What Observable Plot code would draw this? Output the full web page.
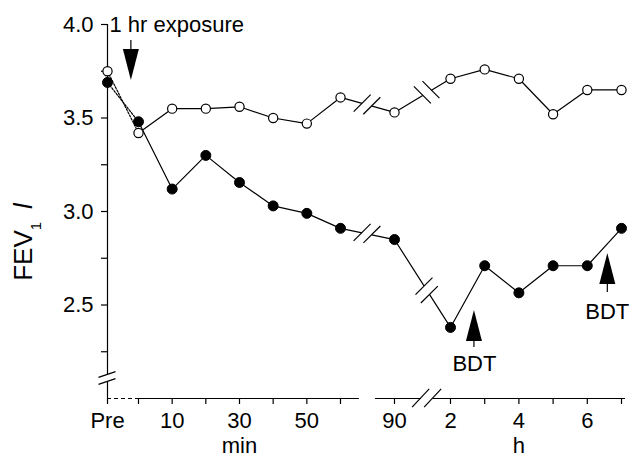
<!DOCTYPE html>
<html><head><meta charset="utf-8">
<script src="https://cdn.jsdelivr.net/npm/d3@7"></script>
<script src="https://cdn.jsdelivr.net/npm/@observablehq/plot@0.6"></script>
<style>html,body{margin:0;padding:0;background:#fff;}</style>
</head><body><div id="chart"></div>
<script>
// ---- data ----
// time in minutes after the end of the 1 h exposure ("Pre" placed before 0)
const timeMin = [-10, 0, 10, 20, 30, 40, 50, 60, 90, 120, 180, 240, 300, 360, 420];
const openValues = [3.75, 3.42, 3.55, 3.55, 3.56, 3.50, 3.47, 3.61, 3.53, 3.71, 3.76, 3.71, 3.52, 3.65, 3.65];
const filledValues = [3.69, 3.48, 3.12, 3.30, 3.155, 3.03, 2.99, 2.91, 2.85, 2.38, 2.71, 2.565, 2.71, 2.71, 2.91];

const xTickValues = [-10, 0, 10, 20, 30, 40, 50, 60, 90, 120, 180, 240, 300, 360, 420];
const xTickLabels = ["Pre", "", "10", "", "30", "", "50", "", "90", "2", "", "4", "", "6", ""];
const yTickValues = [2.25, 2.5, 2.75, 3.0, 3.25, 3.5, 3.75, 4.0];
const yTickLabels = ["", "2.5", "", "3.0", "", "3.5", "", "4.0"];
const unitLabels = ["min", "h"];
const unitAt = [30, 240];

const lineBreakAt = [75, 107.5];   // breaks in the time axis (minutes)
const axisBreakAt = 107.5;
const yBreakAt = 2.107;
const axisDashed = [[-10, 0]];
const axisSolid = [[0, 70.5], [79.4, 427]];

const arrowAt = [-2.3, 162, 396];
const arrowTail = [3.914, 2.273, 2.567];
const arrowTip = [3.70, 2.471, 2.775];
const noteText = ["1 hr exposure", "BDT", "BDT"];
const noteAt = [-9.35, 162, 395];
const noteTop = [4.043, 2.230, 2.508];

// ---- font ----
function hasFont(f) {
  const c = document.createElement("canvas").getContext("2d");
  const s = "abcdefghijklmnopqrstuvwxyz0123456789";
  c.font = "40px monospace"; const a = c.measureText(s).width;
  c.font = `40px "${f}", monospace`;
  return Math.abs(c.measureText(s).width - a) > 0.5;
}
const narrow = hasFont("Liberation Sans Narrow");
const FONT = narrow ? '"Liberation Sans Narrow", "Liberation Sans", Arial, sans-serif' : '"Liberation Sans", Arial, sans-serif';
const FS = narrow ? 24 : 22;
const NOTE_FS = narrow ? 25 : 22;

const W = 632, H = 458, MT = 24, MB = 60;
const rows = timeMin.map((t, i) => ({t, open: openValues[i], filled: filledValues[i]}));
const xLab = new Map(xTickValues.map((v, i) => [v, xTickLabels[i]]));
const yLab = new Map(yTickValues.map((v, i) => [v, yTickLabels[i]]));
const seg = a => a.map(([x1, x2]) => ({x1, x2}));
const notes = noteText.map((text, i) => ({text, t: noteAt[i], v: noteTop[i]}));
const units = unitLabels.map((text, i) => ({text, t: unitAt[i]}));

const plot = Plot.plot({
  width: W, height: H,
  marginTop: MT, marginBottom: MB, marginLeft: 107, marginRight: 7,
  style: {fontFamily: FONT, fontSize: FS + "px", background: "white", color: "black", overflow: "visible"},
  x: {type: "linear", domain: [-10, 0, 60, 90, 120, 420], range: [107, 138, 340, 394, 450, 621], axis: null},
  y: {type: "linear", domain: [2, 4], axis: null},
  marks: [
    Plot.ruleX([-10], {y1: 2.0, y2: 4.0, strokeWidth: 1.2}),
    Plot.ruleY(seg(axisDashed), {y: 2.0, x1: "x1", x2: "x2", strokeWidth: 1.2, strokeDasharray: "4,3"}),
    Plot.ruleY(seg(axisSolid), {y: 2.0, x1: "x1", x2: "x2", strokeWidth: 1.2}),
    Plot.axisY({ticks: yTickValues, tickFormat: d => yLab.get(d) ?? "", tickSize: 6, tickPadding: 8, label: null, fontSize: FS, strokeWidth: 1.2}),
    Plot.axisX({ticks: xTickValues, tickFormat: d => xLab.get(d) ?? "", tickSize: 6, tickPadding: 8, label: null, fontSize: FS, strokeWidth: 1.2}),
    Plot.line(rows.slice(0, 2), {x: "t", y: "open", strokeWidth: 1.2, strokeDasharray: "2,1.5"}),
    Plot.line(rows.slice(0, 2), {x: "t", y: "filled", strokeWidth: 1.2, strokeDasharray: "2,1.5"}),
    Plot.line(rows.slice(1), {x: "t", y: "open", strokeWidth: 1.2}),
    Plot.line(rows.slice(1), {x: "t", y: "filled", strokeWidth: 1.2}),
    Plot.dot(rows, {x: "t", y: "filled", r: 5, fill: "black", stroke: "black", strokeWidth: 1}),
    Plot.dot(rows, {x: "t", y: "open", r: 4.6, fill: "white", stroke: "black", strokeWidth: 1.2}),
    Plot.text(notes.slice(0, 1), {x: "t", y: "v", text: "text", textAnchor: "start", lineAnchor: "top", fontSize: NOTE_FS}),
    Plot.text(notes.slice(1), {x: "t", y: "v", text: "text", textAnchor: "middle", lineAnchor: "top", fontSize: NOTE_FS}),
    Plot.text(units, {x: "t", text: "text", frameAnchor: "bottom", lineAnchor: "top", dy: 452 - (H - MB) - 0.71 * FS, fontSize: FS})
  ]
});
document.getElementById("chart").appendChild(plot);

// ---- decorations drawn with the plot's own scales ----
const sx = plot.scale("x"), sy = plot.scale("y");
const fx = sx.apply ? v => sx.apply(v) : d3.scaleLinear().domain(sx.domain).range(sx.range);
const fy = sy.apply ? v => sy.apply(v) : d3.scaleLinear().domain(sy.domain).range(sy.range);
const svg = d3.select(plot);
const g = svg.append("g").attr("fill", "none").attr("stroke", "black").attr("stroke-width", 1.2);

const rad = d => d * Math.PI / 180;
function drawBreak(cx, cy, segAng, slashAng, len, sep, cutW) {
  const ca = Math.cos(segAng), sa = Math.sin(segAng);
  g.append("line")
    .attr("x1", cx - ca * sep / 2).attr("y1", cy - sa * sep / 2)
    .attr("x2", cx + ca * sep / 2).attr("y2", cy + sa * sep / 2)
    .attr("stroke", "white").attr("stroke-width", cutW);
  const cs = Math.cos(slashAng), ss = Math.sin(slashAng);
  for (const k of [-1, 1]) {
    const ox = cx + k * ca * sep / 2, oy = cy + k * sa * sep / 2;
    g.append("line")
      .attr("x1", ox - cs * len / 2).attr("y1", oy - ss * len / 2)
      .attr("x2", ox + cs * len / 2).attr("y2", oy + ss * len / 2);
  }
}
function interp(t, key) {
  const i = timeMin.findIndex((v, j) => v <= t && timeMin[j + 1] >= t);
  const a = rows[i], b = rows[i + 1];
  const f = (fx(t) - fx(a.t)) / (fx(b.t) - fx(a.t));
  const y0 = fy(a[key]), y1 = fy(b[key]);
  return {x: fx(t), y: y0 + f * (y1 - y0), ang: Math.atan2(y1 - y0, fx(b.t) - fx(a.t))};
}
for (const key of ["open", "filled"]) {
  for (const t of lineBreakAt) {
    const p = interp(t, key);
    let slash = rad(-45);
    let diff = Math.abs(((p.ang - slash) % Math.PI + Math.PI) % Math.PI);
    if (diff < rad(35) || diff > rad(145)) slash = rad(45);
    drawBreak(p.x, p.y, p.ang, slash, 24, 10, 4);
  }
}
drawBreak(fx(axisBreakAt), fy(2.0), 0, rad(-47), 25, 12, 4);
drawBreak(fx(-10), fy(yBreakAt), rad(90), rad(-19), 18, 7, 4);

// arrows
const HEAD = 31, HW = 8;
arrowAt.forEach((t, i) => {
  const x = fx(t), yT = fy(arrowTail[i]), yP = fy(arrowTip[i]);
  const dir = Math.sign(yP - yT);
  const yB = yP - dir * HEAD;
  g.append("line").attr("x1", x).attr("y1", yT).attr("x2", x).attr("y2", yB);
  g.append("path").attr("d", `M${x},${yP}L${x - HW},${yB}L${x + HW},${yB}Z`).attr("fill", "black").attr("stroke", "none");
});

// y-axis title with subscript and italic l
const yt = svg.append("text")
  .attr("transform", "translate(32,242) rotate(-90)")
  .attr("font-family", FONT).attr("font-size", narrow ? 29 : 26).attr("fill", "black");
yt.append("tspan").text("FEV");
yt.append("tspan").attr("font-size", narrow ? 16 : 15).attr("dy", 9).text("1");
yt.append("tspan").attr("dy", -9).text("\u2002");
yt.append("tspan").attr("font-style", "italic").text("l");
</script>
</body></html>
